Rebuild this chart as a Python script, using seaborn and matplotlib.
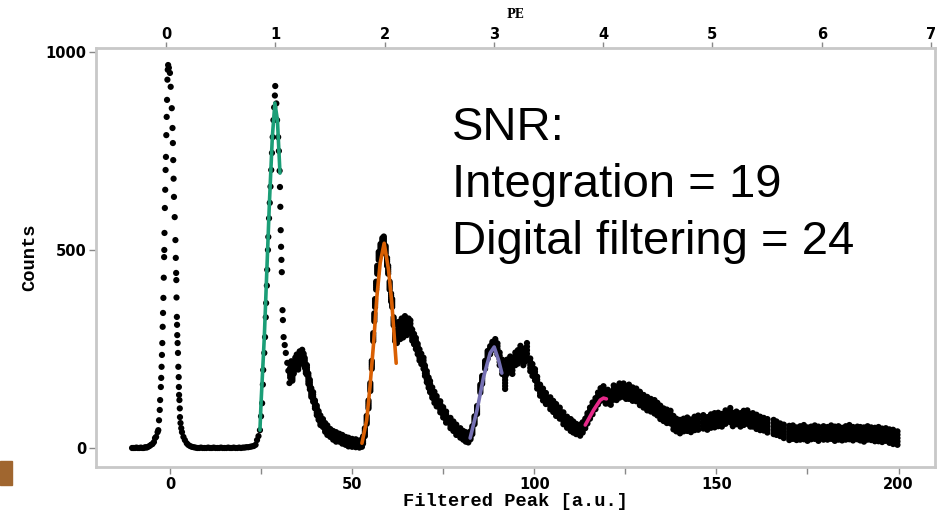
import numpy as np
import pandas as pd
import matplotlib
matplotlib.use("Agg")
import matplotlib.pyplot as plt
import seaborn as sns
from matplotlib.patches import Rectangle

# pedestal + 1 PE peak (individual dots)
peak_x = [-10.4, -10.0, -9.6, -9.2, -8.8, -8.4, -8.0, -7.6, -7.2, -6.8, -6.4, -6.0, -5.6, -5.2, -4.8,
          -4.4, -4.1, -3.8, -3.4, -3.2, -3.0, -2.8, -2.7, -2.5, -2.4, -2.3, -2.2, -2.1, -2.0, -1.9,
          -1.8, -1.7, -1.6, -1.55, -1.5, -1.4, -1.3, -1.2, -1.1, -1.0, -0.9, -0.8, -0.7, -0.6, -0.5,
          -0.3, 0.0, 0.2, 0.5, 0.7, 0.8, 0.9, 1.0, 1.1, 1.3, 1.5, 1.6, 1.7, 1.75, 1.8, 1.9, 1.95,
          2.0, 2.1, 2.2, 2.3, 2.4, 2.45, 2.5, 2.6, 2.7, 2.75, 2.9, 3.1, 3.3, 3.7, 4.1, 4.6, 5.0,
          5.5, 6.0, 6.5, 7.0, 7.5, 8.0, 8.5, 9.0, 9.5, 10.0, 10.5, 11.0, 11.5, 12.0, 12.5, 13.0,
          13.5, 14.0, 14.5, 15.0, 15.5, 16.0, 16.5, 17.0, 17.5, 18.0, 18.5, 19.0, 19.5, 20.0, 20.5,
          21.0, 21.5, 22.0, 22.5, 23.0, 23.5, 23.9, 24.3, 24.7, 25.0, 25.3, 25.5, 25.6, 25.9, 26.1,
          26.3, 26.4, 26.6, 26.7, 26.9, 27.0, 27.2, 27.4, 27.6, 27.8, 28.0, 28.2, 28.4, 28.6, 28.8,
          28.9, 29.2, 29.4, 29.7, 29.9, 30.1, 30.2, 30.3, 30.4, 30.5, 30.6, 30.7, 30.9, 31.0, 31.2,
          31.5, 31.8, 32.2, 32.5, 32.8]
peak_y = [0, 0, 0, 1, 0, 0, 1, 0, 0, 2, 1, 3, 5, 8, 10,
          15, 25, 28, 40, 45, 70, 96, 121, 154, 177, 205, 235, 265, 306, 341,
          379, 430, 482, 500, 543, 606, 652, 702, 735, 790, 836, 879, 930, 955, 967,
          960, 947, 912, 858, 808, 770, 727, 680, 634, 583, 525, 480, 442, 424, 380, 331, 311,
          285, 265, 240, 205, 179, 154, 134, 121, 100, 78, 63, 50, 40, 28, 20, 12, 8,
          5, 3, 2, 1, 0, 0, 1, 0, 0, 0, 1, 0, 0, 1, 0, 0,
          0, 1, 0, 0, 0, 1, 0, 0, 1, 0, 0, 1, 0, 1, 1,
          2, 2, 3, 4, 5, 8, 20, 30, 45, 80, 113, 160, 197, 240, 280,
          330, 366, 410, 450, 500, 533, 580, 619, 660, 702, 745, 785, 828, 860, 890,
          914, 870, 828, 785, 750, 700, 659, 609, 550, 508, 475, 444, 348, 323, 280,
          260, 240, 215, 195, 164]

# continuum from 1 PE shoulder to the end (thick band)
cont_x = [33.0, 33.3, 33.6, 34.0, 34.4, 34.8, 35.2, 35.6, 36.0, 36.3, 36.7, 37.0, 37.3, 37.6, 38.0,
          38.4, 38.8, 39.3, 39.8, 40.3, 40.8, 41.3, 42.0, 42.6, 43.2, 44.0, 44.8, 45.6, 46.5, 47.3,
          48.2, 49.0, 50.0, 51.0, 52.0, 52.7, 53.0, 53.5, 54.0, 54.5, 55.0, 55.4, 55.8, 56.1, 56.3,
          56.6, 56.9, 57.3, 57.8, 58.3, 58.7, 59.2, 59.6, 59.9, 60.3, 60.7, 61.0, 61.4, 61.8, 62.3,
          62.7, 63.2, 63.6, 64.0, 64.5, 65.0, 65.5, 66.0, 66.5, 67.0, 67.5, 68.0, 68.5, 69.0, 69.6,
          70.0, 70.5, 71.0, 71.4, 72.0, 72.6, 73.2, 74.2, 75.0, 75.8, 77.0, 77.8, 78.6, 79.7, 80.5,
          81.2, 81.9, 82.5, 83.0, 83.6, 84.3, 85.2, 85.7, 86.5, 87.2, 87.9, 88.5, 89.3, 89.9, 90.5,
          91.2, 92.0, 92.5, 93.4, 94.0, 94.8, 95.5, 96.2, 97.0, 97.5, 98.0, 98.9, 99.5, 100.2, 100.8,
          101.6, 102.4, 103.2, 104.4, 105.2, 106.0, 107.0, 108.0, 109.0, 110.0, 110.7, 111.5, 112.6, 113.3, 114.0,
          114.6, 115.3, 116.0, 116.8, 117.5, 118.2, 119.0, 119.6, 120.2, 121.0, 121.8, 122.6, 123.4, 124.5, 125.2,
          126.0, 127.0, 128.0, 129.0, 130.0, 131.0, 132.0, 133.0, 133.8, 134.6, 135.5, 136.4, 137.4, 138.2, 139.0,
          140.0, 141.0, 142.0, 143.0, 144.0, 145.0, 146.4, 147.5, 148.5, 149.5, 150.5, 151.5, 152.5, 153.8, 154.5,
          155.5, 156.6, 157.5, 158.5, 159.3, 160.0, 161.0, 162.0, 163.0, 164.0, 165.7, 166.5, 167.5, 168.5, 170.0,
          171.0, 172.0, 173.0, 174.0, 175.0, 176.0, 177.0, 178.0, 179.4, 180.5, 181.5, 182.5, 183.5, 184.5, 185.5,
          186.5, 187.5, 188.7, 189.5, 190.5, 191.5, 192.5, 193.5, 194.5, 195.5, 196.5, 197.5, 198.5, 199.7]
cont_y = [190, 205, 180, 200, 215, 225, 210, 230, 225, 238, 225, 215, 200, 197, 175,
          160, 140, 129, 110, 95, 82, 70, 63, 52, 45, 38, 32, 28, 26, 22,
          18, 15, 13, 12, 10, 12, 20, 40, 71, 110, 154, 210, 280, 330, 366,
          410, 450, 485, 505, 520, 525, 500, 470, 450, 410, 380, 366, 320, 280, 281,
          300, 290, 310, 295, 315, 300, 310, 306, 285, 275, 264, 250, 235, 225, 214,
          195, 180, 165, 155, 140, 128, 118, 104, 90, 78, 63, 55, 46, 38, 32,
          28, 25, 32, 45, 70, 96, 150, 172, 210, 235, 247, 258, 265, 250, 225,
          205, 164, 205, 214, 205, 225, 230, 240, 225, 235, 247, 210, 197, 185, 165,
          146, 135, 125, 113, 105, 96, 88, 75, 65, 58, 53, 48, 45, 52, 62,
          75, 88, 100, 112, 125, 135, 139, 128, 130, 125, 140, 138, 145, 146, 140,
          142, 136, 134, 125, 118, 112, 108, 104, 98, 90, 84, 80, 78, 64, 58,
          54, 58, 60, 56, 62, 64, 66, 62, 68, 70, 72, 70, 78, 83, 72,
          76, 71, 76, 78, 70, 71, 66, 62, 60, 56, 53, 50, 46, 42, 38,
          40, 36, 38, 40, 35, 38, 40, 36, 38, 37, 40, 36, 38, 35, 38,
          40, 36, 38, 36, 34, 38, 36, 34, 35, 32, 34, 30, 28, 25]
cont_spread = [12, 14, 10, 12, 13, 11, 12, 14, 12, 10, 13, 12, 11, 12, 13,
               12, 11, 12, 10, 12, 11, 12, 10, 11, 12, 10, 11, 12, 10, 11,
               10, 11, 10, 10, 9, 9, 9, 10, 10, 10, 10, 10, 10, 10, 10,
               10, 10, 10, 10, 10, 9, 10, 10, 10, 10, 10, 10, 10, 10, 16,
               18, 15, 17, 16, 18, 15, 17, 16, 14, 13, 14, 13, 14, 13, 14,
               13, 14, 13, 14, 13, 14, 13, 14, 13, 14, 13, 12, 13, 12, 11,
               12, 11, 10, 10, 10, 10, 10, 10, 10, 10, 10, 10, 10, 14, 16,
               18, 15, 18, 17, 18, 16, 17, 18, 16, 17, 18, 16, 15, 14, 15,
               14, 15, 14, 15, 14, 15, 14, 15, 14, 15, 14, 13, 14, 13, 12,
               13, 14, 15, 14, 15, 16, 17, 16, 17, 16, 18, 17, 18, 17, 16,
               18, 17, 16, 17, 16, 17, 16, 17, 16, 17, 16, 17, 16, 17, 16,
               17, 16, 17, 16, 17, 18, 17, 16, 17, 18, 17, 16, 17, 18, 17,
               16, 17, 18, 17, 16, 17, 18, 17, 16, 17, 18, 17, 16, 17, 18,
               17, 16, 17, 18, 17, 16, 17, 18, 17, 16, 17, 18, 17, 16, 17,
               18, 17, 16, 17, 18, 17, 16, 17, 18, 17, 16, 17, 18, 17]

# gaussian fits per PE peak
fit1_x = [24.7, 25.0, 25.9, 26.6, 27.3, 28.1, 28.8, 29.5, 30.2]
fit1_y = [45, 113, 280, 450, 619, 785, 871, 828, 694]
fit2_x = [52.7, 54.0, 54.9, 55.9, 56.8, 57.7, 58.8, 60.0, 60.9, 62.1]
fit2_y = [12, 70, 154, 265, 382, 467, 517, 450, 366, 214]
fit3_x = [82.4, 84.3, 86.1, 87.9, 89.0, 90.2, 91.1]
fit3_y = [25, 96, 180, 240, 255, 222, 189]
fit4_x = [114.0, 116.3, 118.1, 119.0, 119.8]
fit4_y = [58, 96, 121, 126, 124]

fit_colors = ["#1b9e77", "#d95f02", "#7570b3", "#e7298a"]

snr_lines = ["SNR:", "Integration = 19", "Digital filtering = 24"]

sns.set_theme(style="white")

fig = plt.figure(figsize=(9.48, 5.12), dpi=100)
ax = fig.add_axes([96 / 948, 45 / 512, 839 / 948, 419 / 512])

# band: each continuum point drawn at 5 offsets within its spread
cx = np.array(cont_x)
cy = np.array(cont_y)
cs = np.array(cont_spread)
band_y = [cy + f * cs for f in (-1.0, -0.5, 0.0, 0.5, 1.0)]
dots = pd.DataFrame({
    "x": np.concatenate([peak_x] + [cx] * 5),
    "y": np.concatenate([peak_y] + band_y),
})
sns.scatterplot(data=dots, x="x", y="y", ax=ax, color="black", s=20,
                edgecolor="none", linewidth=0, zorder=2)

for fx, fy, c in zip([fit1_x, fit2_x, fit3_x, fit4_x],
                     [fit1_y, fit2_y, fit3_y, fit4_y], fit_colors):
    sns.lineplot(x=fx, y=fy, ax=ax, color=c, lw=2.6, sort=False, zorder=3)

ax.set_xlim(-20.3, 210)
ax.set_ylim(-48, 1010)
ax.set_xticks([0, 50, 100, 150, 200])
ax.set_xticks([25, 75, 125, 175], minor=True)
ax.set_yticks([0, 500, 1000])

tick_font = dict(family="DejaVu Sans", weight="bold", size=10.5)
for lab in ax.get_xticklabels() + ax.get_yticklabels():
    lab.set_fontproperties(tick_font)
ax.tick_params(axis="both", which="both", direction="out", color="#888888",
               length=5, width=1, bottom=True, left=True, labelcolor="black")
ax.tick_params(axis="x", pad=2)
ax.tick_params(axis="y", pad=2)

for sp in ax.spines.values():
    sp.set_color("#c8c8c8")
    sp.set_linewidth(2)

mono = dict(family="Liberation Mono", weight="bold", size=13.5, color="black")
ax.set_xlabel("Filtered Peak [a.u.]", fontdict=mono, labelpad=1)
ax.set_ylabel("Counts", fontdict=mono, labelpad=5)

# photo-electron scale on top
top = ax.secondary_xaxis("top", functions=(lambda v: (v + 1.1) / 30.0,
                                           lambda p: p * 30.0 - 1.1))
top.set_xticks(range(0, 8))
for lab in top.get_xticklabels():
    lab.set_fontproperties(tick_font)
top.tick_params(direction="out", color="#888888", length=4, width=1, pad=0,
                labelcolor="black")
top.spines["top"].set_visible(False)
fig.text(515 / 948, 1 - 14 / 512, "PE", ha="center", va="center",
         family="DejaVu Serif", weight="bold", size=8.5, color="black")

for i, line in enumerate(snr_lines):
    fig.text(452 / 948, 1 - (140 + 57 * i) / 512, line, ha="left", va="baseline",
             family="Liberation Sans", size=34, color="black")

# slide decoration in the corner
fig.patches.append(Rectangle((0, 1 - 485 / 512), 12 / 948, 24 / 512,
                             transform=fig.transFigure, color="#a0662f"))

fig.savefig("out.png", dpi=100)
